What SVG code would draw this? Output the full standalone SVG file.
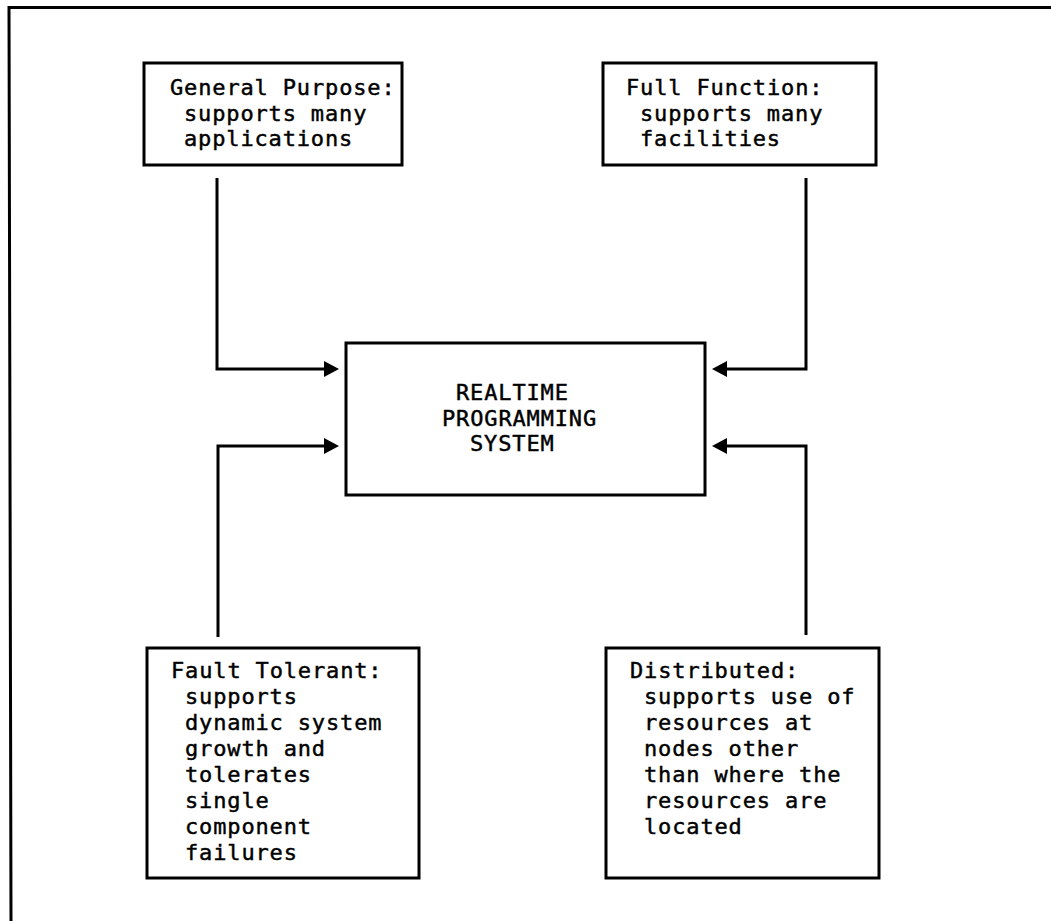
<svg xmlns="http://www.w3.org/2000/svg" width="1051" height="921" viewBox="0 0 1051 921">
  <style>
    .box { fill: #fff; stroke: #000; stroke-width: 3; }
    .frame { fill: none; stroke: #000; stroke-width: 3; }
    .conn { fill: none; stroke: #000; stroke-width: 3; marker-end: url(#head); }
    .t { font-family: "DejaVu Sans Mono", "Liberation Mono", monospace; font-size: 22px; letter-spacing: 0.85px; fill: #000; stroke: #000; stroke-width: 0.45px; }
  </style>
  <defs>
    <marker id="head" viewBox="0 0 15 16" refX="1" refY="8" markerWidth="15" markerHeight="16" markerUnits="userSpaceOnUse" orient="auto">
      <path d="M0,0 L15,8 L0,16 Z" fill="#000"/>
    </marker>
  </defs>
  <rect width="1051" height="921" fill="#fff"/>

  <!-- page frame: top rule and left rule only -->
  <path class="frame" d="M1051,7.5 H9 L11,921"/>

  <!-- connectors -->
  <g id="connectors">
    <path class="conn" d="M217,178 V369 H325"/>
    <path class="conn" d="M218,637 V446 H325"/>
    <path class="conn" d="M806,178 V369 H726"/>
    <path class="conn" d="M806,635 V446 H726"/>
  </g>

  <g id="general-purpose">
    <rect class="box" x="144" y="63" width="258" height="102"/>
    <text class="t" x="170" y="95">General Purpose:</text>
    <text class="t" x="184" y="120.5">supports many</text>
    <text class="t" x="184" y="146">applications</text>
  </g>

  <g id="full-function">
    <rect class="box" x="603" y="63" width="273" height="102"/>
    <text class="t" x="626" y="95">Full Function:</text>
    <text class="t" x="640" y="120.5">supports many</text>
    <text class="t" x="640" y="146">facilities</text>
  </g>

  <g id="realtime-system">
    <rect class="box" x="346" y="343" width="359" height="152"/>
    <text class="t" x="456" y="400">REALTIME</text>
    <text class="t" x="442" y="425.5">PROGRAMMING</text>
    <text class="t" x="470" y="451">SYSTEM</text>
  </g>

  <g id="fault-tolerant">
    <rect class="box" x="147" y="648" width="272" height="230"/>
    <text class="t" x="171" y="678">Fault Tolerant:</text>
    <text class="t" x="185" y="704">supports</text>
    <text class="t" x="185" y="730">dynamic system</text>
    <text class="t" x="185" y="756">growth and</text>
    <text class="t" x="185" y="782">tolerates</text>
    <text class="t" x="185" y="808">single</text>
    <text class="t" x="185" y="834">component</text>
    <text class="t" x="185" y="860">failures</text>
  </g>

  <g id="distributed">
    <rect class="box" x="606" y="648" width="273" height="230"/>
    <text class="t" x="630" y="678">Distributed:</text>
    <text class="t" x="644" y="704">supports use of</text>
    <text class="t" x="644" y="730">resources at</text>
    <text class="t" x="644" y="756">nodes other</text>
    <text class="t" x="644" y="782">than where the</text>
    <text class="t" x="644" y="808">resources are</text>
    <text class="t" x="644" y="834">located</text>
  </g>
</svg>
